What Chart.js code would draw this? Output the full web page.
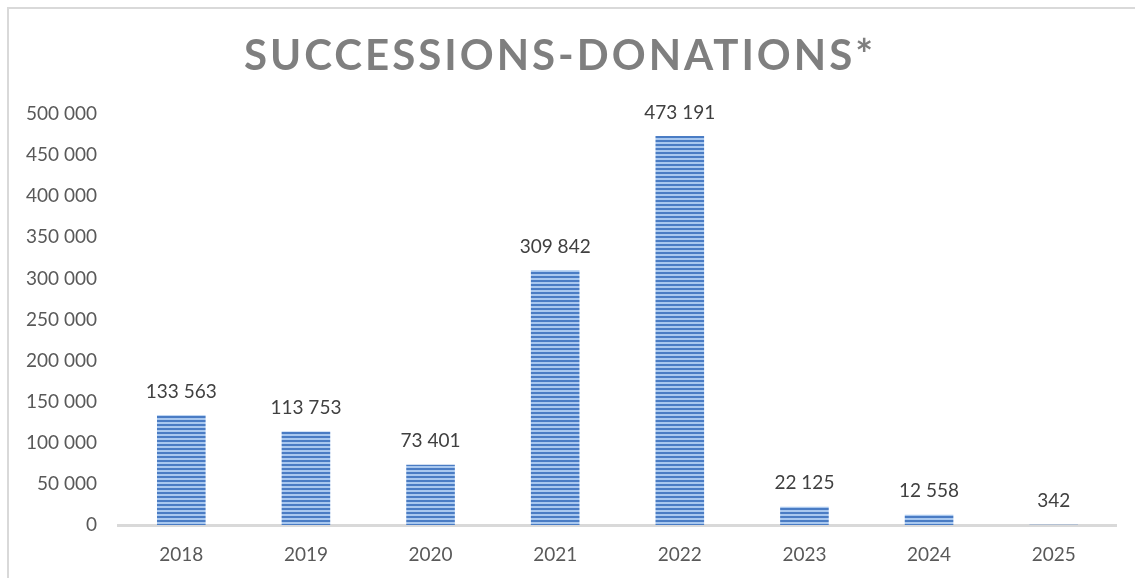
<!DOCTYPE html>
<html>
<head>
<meta charset="utf-8">
<script src="https://cdn.jsdelivr.net/npm/chart.js@4.4.1/dist/chart.umd.min.js"></script>
<style>
  html, body { margin: 0; padding: 0; background: #fff; }
  #wrap { position: relative; width: 1135px; height: 578px; }
  #frame { position: absolute; left: 7px; top: 7px; right: 0; bottom: 0;
           border-left: 2px solid #d9d9d9; border-top: 2px solid #d9d9d9; }
  canvas { position: absolute; left: 0; top: 0; }
</style>
</head>
<body>
<div id="wrap">
  <div id="frame"></div>
  <canvas id="chart" width="1135" height="578"></canvas>
</div>
<script>
const years = ['2018', '2019', '2020', '2021', '2022', '2023', '2024', '2025'];
const values = [133563, 113753, 73401, 309842, 473191, 22125, 12558, 342];
const yTicks = [0, 50000, 100000, 150000, 200000, 250000, 300000, 350000, 400000, 450000, 500000];
const titleText = 'SUCCESSIONS-DONATIONS*';

// 100000 -> "100 000"
function fmt(v) {
  return String(v).replace(/\B(?=(\d{3})+(?!\d))/g, ' ');
}

// striped fill like the original bars
function stripes() {
  const c = document.createElement('canvas');
  c.width = 8; c.height = 4;
  const g = c.getContext('2d');
  g.fillStyle = '#4a7cc4';
  g.fillRect(0, 0, 8, 4);
  g.fillStyle = '#a9c8ef';
  g.fillRect(0, 2, 8, 2);
  return g.createPattern(c, 'repeat');
}

const FONT = 'Lato, "Open Sans", sans-serif';

const labelsPlugin = {
  id: 'barLabels',
  afterDatasetsDraw(chart) {
    const ctx = chart.ctx;
    const meta = chart.getDatasetMeta(0);
    ctx.save();
    ctx.font = '19px ' + FONT;
    ctx.fillStyle = '#404040';
    ctx.textAlign = 'center';
    ctx.textBaseline = 'bottom';
    meta.data.forEach((bar, i) => {
      ctx.fillText(fmt(values[i]), bar.x, bar.y - 14);
    });
    ctx.restore();
  }
};

const titlePlugin = {
  id: 'spacedTitle',
  afterDraw(chart) {
    const ctx = chart.ctx;
    ctx.save();
    ctx.font = 'bold 42px ' + FONT;
    ctx.fillStyle = '#7f7f7f';
    ctx.letterSpacing = '3px';
    ctx.textAlign = 'center';
    ctx.textBaseline = 'middle';
    ctx.fillText(titleText, 560, 56);
    ctx.restore();
  }
};

new Chart(document.getElementById('chart').getContext('2d'), {
  type: 'bar',
  data: {
    labels: years,
    datasets: [{
      data: values,
      backgroundColor: stripes(),
      borderWidth: 0,
      barPercentage: 0.39,
      categoryPercentage: 1
    }]
  },
  options: {
    responsive: false,
    animation: false,
    layout: { padding: { left: 4, right: 19, top: 114, bottom: 0 } },
    plugins: {
      legend: { display: false },
      tooltip: { enabled: false }
    },
    scales: {
      x: {
        grid: { display: false, drawTicks: false },
        border: { display: true, color: '#d9d9d9', width: 3 },
        ticks: { color: '#595959', font: { family: FONT, size: 19, lineHeight: 1 }, padding: 20 },
        afterFit(scale) { scale.height = 53; }
      },
      y: {
        min: 0,
        max: 500000,
        afterBuildTicks(scale) {
          scale.ticks = yTicks.map(v => ({ value: v }));
        },
        grid: { display: false, drawTicks: false },
        border: { display: false },
        ticks: {
          color: '#595959',
          font: { family: FONT, size: 19 },
          padding: 22,
          callback: v => fmt(v)
        }
      }
    }
  },
  plugins: [labelsPlugin, titlePlugin]
});
</script>
</body>
</html>
